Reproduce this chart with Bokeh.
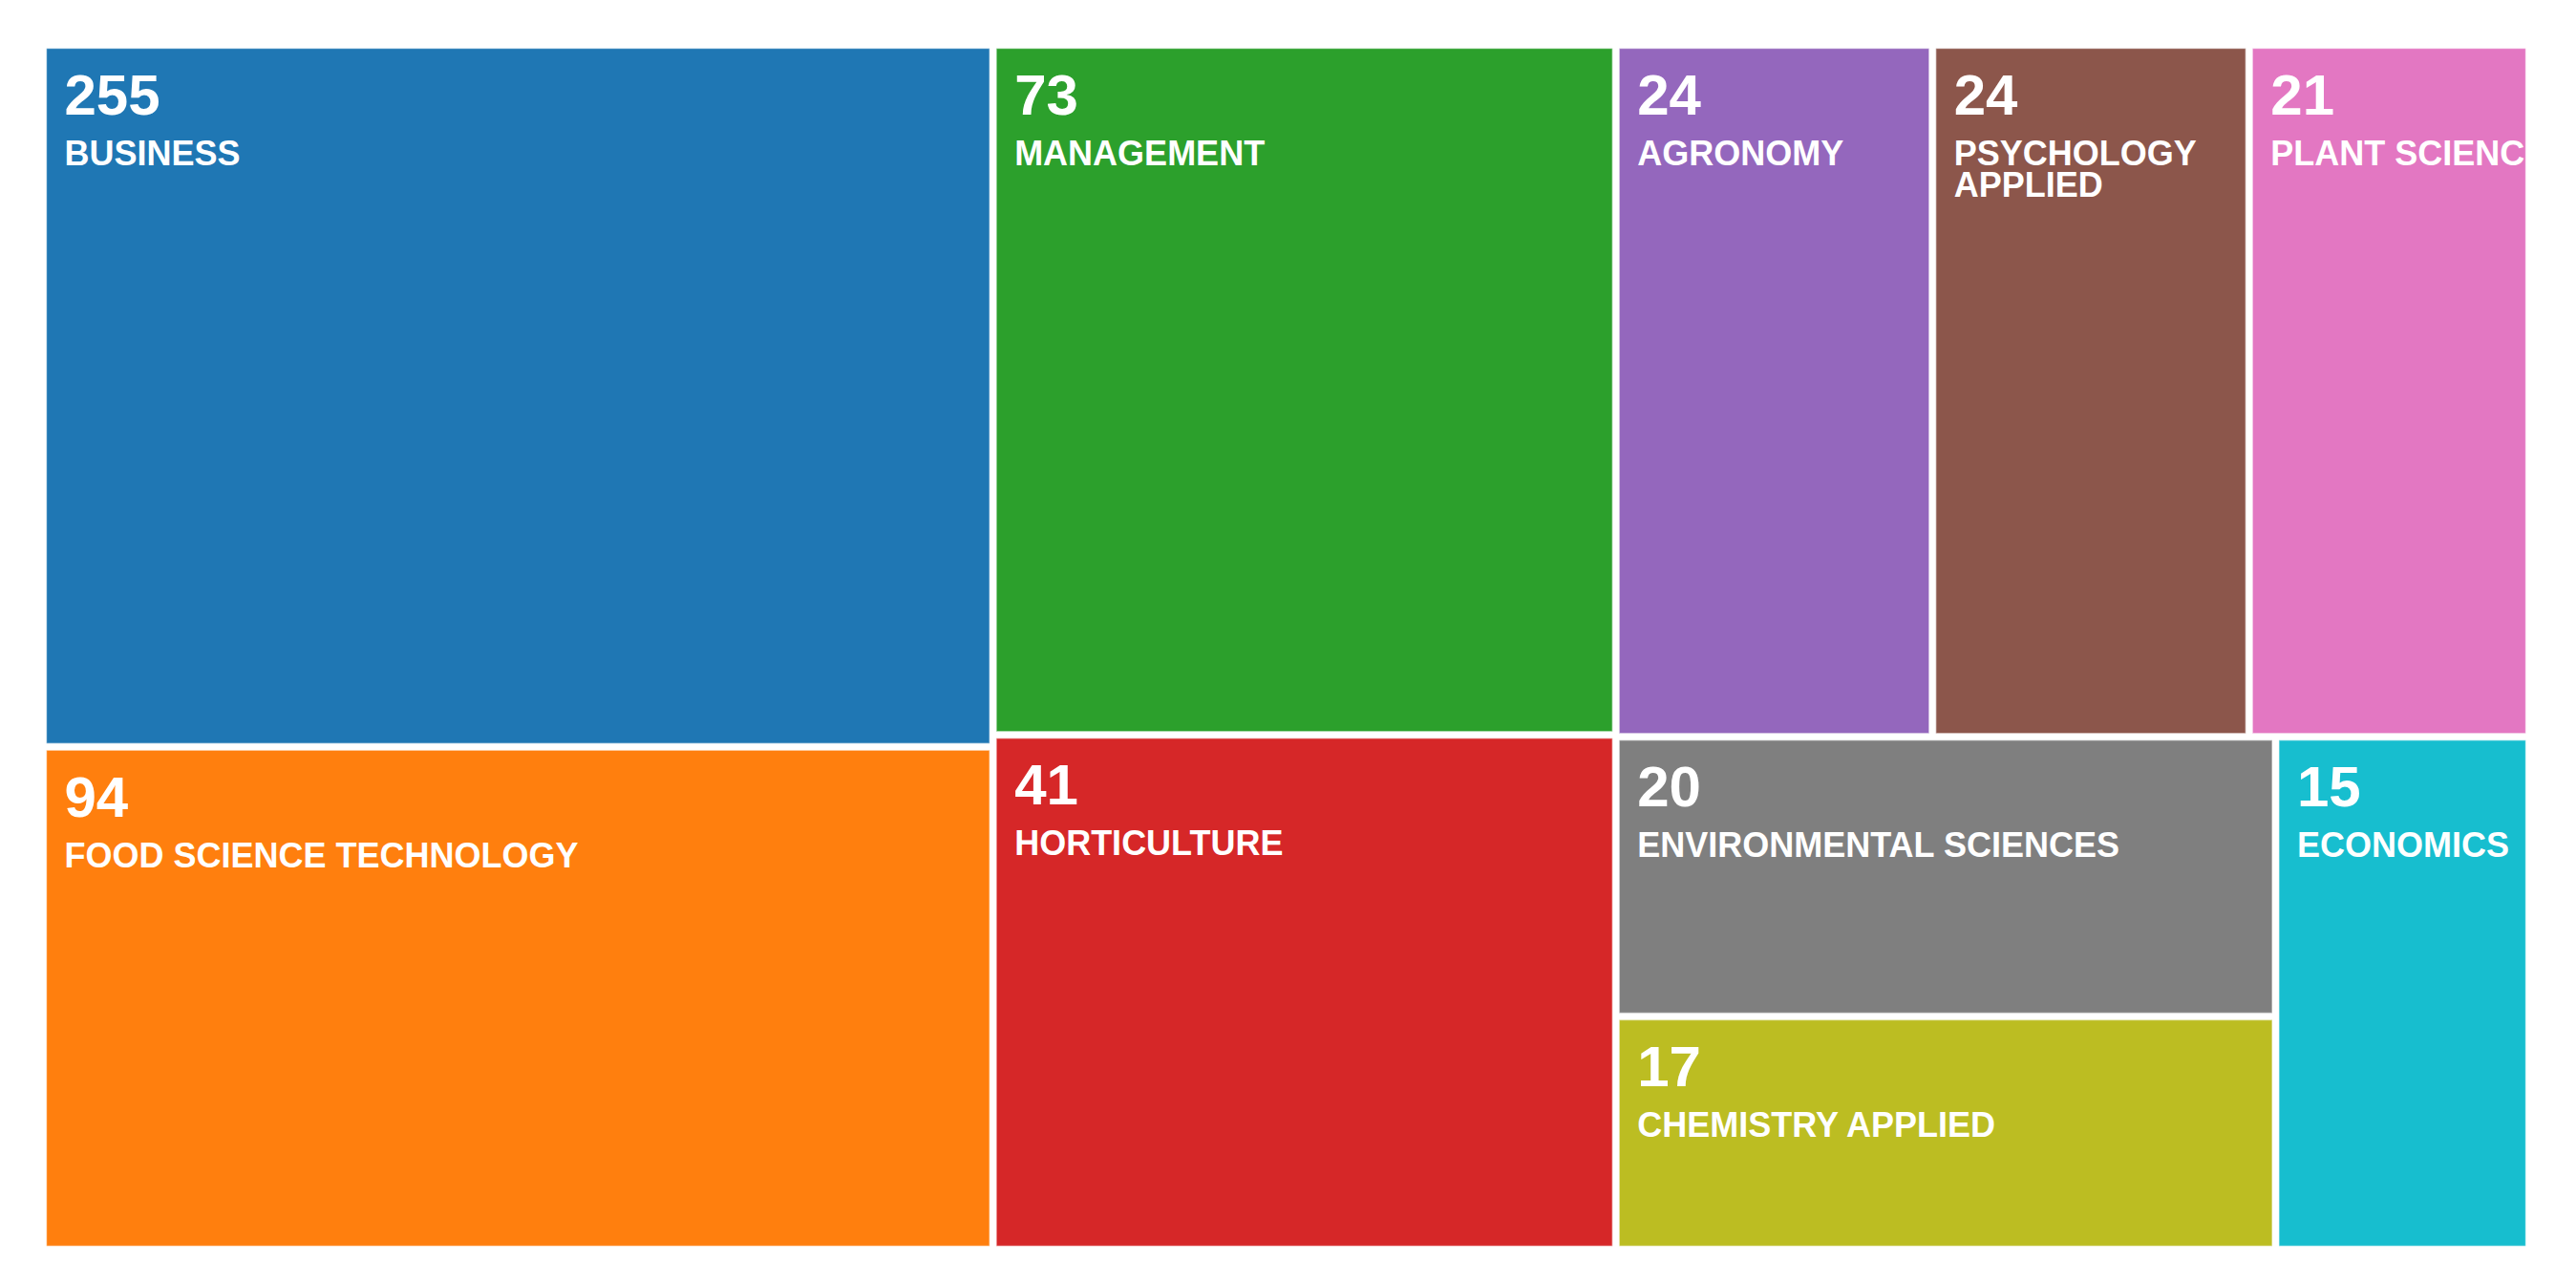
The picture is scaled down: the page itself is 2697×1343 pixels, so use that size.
import numpy as np
from bokeh.plotting import figure
from bokeh.models import ColumnDataSource, Range1d
from bokeh.core.properties import value
from bokeh.embed import file_html
from bokeh.resources import INLINE

# ---- data ----
categories = ["BUSINESS", "FOOD SCIENCE TECHNOLOGY", "MANAGEMENT", "HORTICULTURE",
              "AGRONOMY", "PSYCHOLOGY APPLIED", "PLANT SCIENCES",
              "ENVIRONMENTAL SCIENCES", "CHEMISTRY APPLIED", "ECONOMICS"]
display_labels = ["BUSINESS", "FOOD SCIENCE TECHNOLOGY", "MANAGEMENT", "HORTICULTURE",
                  "AGRONOMY", "PSYCHOLOGY\nAPPLIED", "PLANT SCIENCES",
                  "ENVIRONMENTAL SCIENCES", "CHEMISTRY APPLIED", "ECONOMICS"]
counts = [255, 94, 73, 41, 24, 24, 21, 20, 17, 15]
colors = ["#1f77b4", "#ff7f0e", "#2ca02c", "#d62728", "#9467bd",
          "#8c564b", "#e377c2", "#7f7f7f", "#bcbd22", "#17becf"]

# ---- layout ----
FW, FH = 2596, 1254          # frame size in px (data units = px)
PAD = 3.5                    # half of the gap between cells
RATIO = (1 + 5 ** 0.5) / 2   # squarify target ratio (golden)

# cell area weight: logarithmic size scale
weights = list(np.log(np.array(counts, dtype=float) / 7.55))


def squarify(vals, x0, y0, x1, y1, ratio=RATIO):
    n = len(vals)
    out = [None] * n
    total = float(sum(vals))
    i0 = i1 = 0
    while i0 < n:
        dx, dy = x1 - x0, y1 - y0
        s = vals[i1]
        i1 += 1
        mn = mx = s
        alpha = max(dy / dx, dx / dy) / (total * ratio)
        beta = s * s * alpha
        best = max(mx / beta, beta / mn)
        while i1 < n:
            v = vals[i1]
            s2 = s + v
            mn2, mx2 = min(mn, v), max(mx, v)
            beta = s2 * s2 * alpha
            r = max(mx2 / beta, beta / mn2)
            if r > best:
                break
            s, mn, mx, best = s2, mn2, mx2, r
            i1 += 1
        idx = range(i0, i1)
        if dx < dy:   # row across the top
            yk = y0 + dy * s / total
            k = (x1 - x0) / s
            xx = x0
            for i in idx:
                w = vals[i] * k
                out[i] = (xx, y0, xx + w, yk)
                xx += w
            y0 = yk
        else:         # column on the left
            xk = x0 + dx * s / total
            k = (y1 - y0) / s
            yy = y0
            for i in idx:
                h = vals[i] * k
                out[i] = (x0, yy, xk, yy + h)
                yy += h
            x0 = xk
        total -= s
        i0 = i1
    return out


tiles = squarify(weights, -PAD, -PAD, FW + PAD, FH + PAD)
left = [t[0] + PAD for t in tiles]
top = [t[1] + PAD for t in tiles]
right = [t[2] - PAD for t in tiles]
bottom = [t[3] - PAD for t in tiles]

rect_src = ColumnDataSource(dict(left=left, right=right, top=top, bottom=bottom,
                                 color=colors, name=categories, count=counts))

num_x = [l + 19 for l in left]
num_y = [t + 49 for t in top]
num_src = ColumnDataSource(dict(x=num_x, y=num_y, text=[str(c) for c in counts]))

lab_x, lab_y, lab_t = [], [], []
for l, t, lab in zip(left, top, display_labels):
    for j, line in enumerate(lab.split("\n")):
        lab_x.append(l + 19)
        lab_y.append(t + 110 + 33 * j)
        lab_t.append(line)
lab_src = ColumnDataSource(dict(x=lab_x, y=lab_y, text=lab_t))

p = figure(width=2681, height=1327, output_backend="svg", toolbar_location=None,
           x_axis_location=None, y_axis_location=None,
           x_range=Range1d(0, FW), y_range=Range1d(FH, 0),
           min_border_left=48, min_border_right=37, min_border_top=50, min_border_bottom=23)
p.grid.visible = False
p.outline_line_color = None
p.background_fill_color = "white"
p.border_fill_color = "white"

p.quad(left="left", right="right", top="top", bottom="bottom", source=rect_src,
       fill_color="color", line_color="white", line_alpha=0.45, line_width=1.5)

p.text(x="x", y="y", text="text", source=num_src, text_color="white",
       text_font=value("Liberation Sans"), text_font_style="bold",
       text_font_size="60px", text_baseline="alphabetic", text_align="left")
p.text(x="x", y="y", text="text", source=lab_src, text_color="white",
       text_font=value("Liberation Sans"), text_font_style="bold",
       text_font_size="36px", text_baseline="alphabetic", text_align="left")

open("out.html", "w").write(file_html(p, INLINE))
